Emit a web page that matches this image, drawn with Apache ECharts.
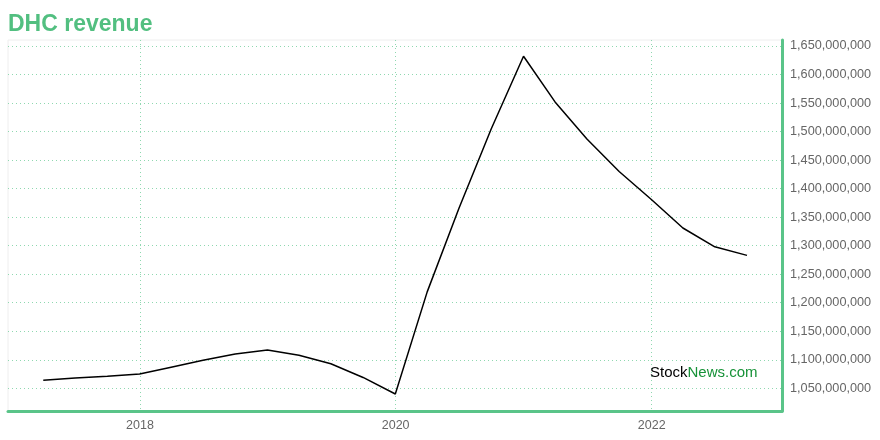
<!DOCTYPE html>
<html>
<head>
<meta charset="utf-8">
<script src="https://cdn.jsdelivr.net/npm/echarts@6/dist/echarts.min.js"></script>
<style>
html,body{margin:0;padding:0;background:#fff;}
#chart{width:880px;height:440px;}
</style>
</head>
<body>
<div id="chart"></div>
<script>
// ---- data ----
const quarterEnds = ['2017-03-31','2017-06-30','2017-09-30','2017-12-31','2018-03-31','2018-06-30','2018-09-30','2018-12-31','2019-03-31','2019-06-30','2019-09-30','2019-12-31','2020-03-31','2020-06-30','2020-09-30','2020-12-31','2021-03-31','2021-06-30','2021-09-30','2021-12-31','2022-03-31','2022-06-30','2022-09-30'];
const revenue = [1064e6,1068e6,1071e6,1075e6,1087e6,1099e6,1110e6,1117e6,1108e6,1093e6,1069e6,1040e6,1219e6,1366e6,1505e6,1632e6,1552e6,1487e6,1430e6,1381e6,1331e6,1298e6,1283e6];
const xTickYears = [2018, 2020, 2022];
const yTicks = [1050e6,1100e6,1150e6,1200e6,1250e6,1300e6,1350e6,1400e6,1450e6,1500e6,1550e6,1600e6,1650e6];
const titleText = 'DHC revenue';

function toUTC(s){ const p = s.split('-').map(Number); return Date.UTC(p[0], p[1]-1, p[2]); }
const DAY = 86400000;
const xTickVals = xTickYears.map(y => Date.UTC(y,0,1));
const xMin = Date.UTC(2018,0,1) - 376.7*DAY;
const xMax = Date.UTC(2022,0,1) + 371.9*DAY;
const yMin = 1010.2e6, yMax = 1660.5e6;

const green = '#5ac489';
const gridCol = '#8fd8b0';
const chart = echarts.init(document.getElementById('chart'), null, {renderer:'canvas'});
chart.setOption({
  animation:false,
  backgroundColor:'#fff',
  title:{ text:titleText, left:8, top:13, padding:0, textStyle:{ fontFamily:'Liberation Sans', fontSize:23, fontWeight:'bold', color:'#52bf80' } },
  grid:{ left:8, right:98, top:40, bottom:29, show:true, borderColor:'#eeeeee', borderWidth:1, containLabel:false },
  xAxis:{
    type:'value', min:xMin, max:xMax,
    axisLine:{ show:true, lineStyle:{ color:green, width:3 } },
    axisTick:{ show:false, customValues:xTickVals },
    axisLabel:{ customValues:xTickVals, color:'#666', fontFamily:'Liberation Sans', fontSize:12.5, margin:8,
      formatter: v => String(new Date(v).getUTCFullYear()) },
    splitLine:{ show:true, lineStyle:{ color:gridCol, type:[1,3], width:1 } }
  },
  yAxis:{
    type:'value', position:'right', min:yMin, max:yMax,
    axisLine:{ show:true, lineStyle:{ color:green, width:3 } },
    axisTick:{ show:false, customValues:yTicks },
    axisLabel:{ customValues:yTicks, color:'#666', fontFamily:'Liberation Sans', fontSize:12.7, margin:8,
      formatter: v => Math.round(v).toLocaleString('en-US') },
    splitLine:{ show:true, lineStyle:{ color:gridCol, type:[1,3], width:1 } }
  },
  graphic:[{
    type:'text', left:650, top:365, z:100,
    style:{ text:'{a|Stock}{b|News.com}', rich:{ a:{ fill:'#000', fontSize:15, fontFamily:'Liberation Sans' }, b:{ fill:'#179238', fontSize:15, fontFamily:'Liberation Sans' } } }
  }],
  series:[{
    type:'line', showSymbol:false, symbol:'none',
    data: quarterEnds.map((d,i) => [toUTC(d), revenue[i]]),
    lineStyle:{ color:'#000', width:1.5 }
  }]
});
</script>
</body>
</html>
